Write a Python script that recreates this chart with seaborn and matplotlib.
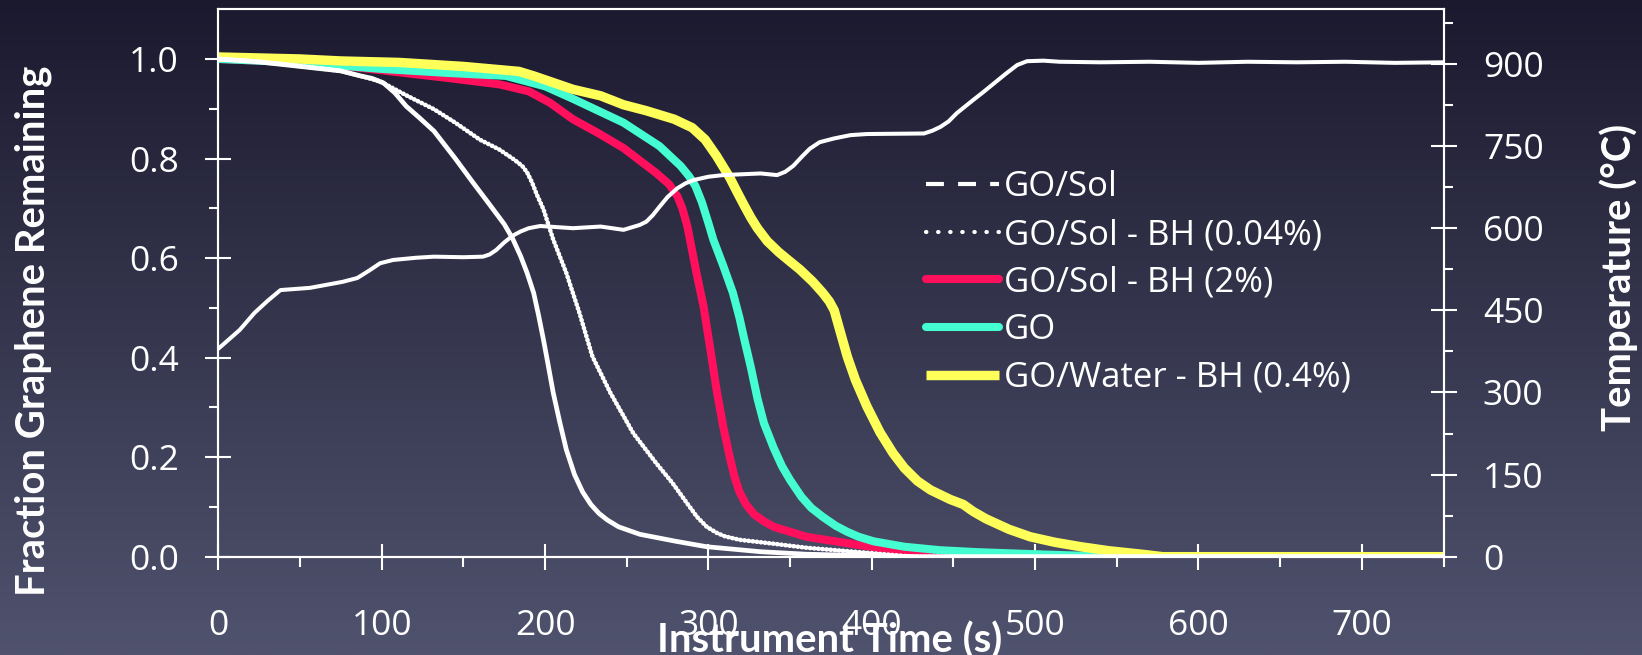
import numpy as np
import matplotlib
matplotlib.use("Agg")
import matplotlib.pyplot as plt
import seaborn as sns
from matplotlib.lines import Line2D
from matplotlib.ticker import FixedLocator, FormatStrFormatter

# ---- series: instrument time (s) vs fraction of graphene remaining ----
t_gosol = [0, 25, 50, 75, 87, 94, 101, 108, 115, 123, 132, 145, 156, 165, 175,
           180, 185, 189, 193, 196, 199, 202, 205, 209, 213, 218, 223, 228, 233,
           238, 245, 258, 280, 299, 332, 360, 400, 430, 750]
f_gosol = [1.000, 0.994, 0.985, 0.976, 0.966, 0.961, 0.952, 0.932, 0.905, 0.882,
           0.855, 0.800, 0.751, 0.712, 0.668, 0.640, 0.604, 0.570, 0.530, 0.485,
           0.436, 0.383, 0.329, 0.270, 0.215, 0.165, 0.130, 0.105, 0.087, 0.074,
           0.060, 0.045, 0.031, 0.020, 0.010, 0.005, 0.002, 0.000, 0.000]

t_bh004 = [0, 25, 50, 75, 87, 99, 115, 132, 145, 160, 172, 181, 186, 189, 192,
           195, 199, 205, 213, 221, 229, 240, 254, 268, 278, 287, 293, 299, 305,
           310, 319, 340, 360, 400, 425, 750]
f_bh004 = [1.000, 0.995, 0.986, 0.976, 0.966, 0.955, 0.927, 0.899, 0.872, 0.838,
           0.818, 0.798, 0.785, 0.772, 0.752, 0.727, 0.698, 0.637, 0.570, 0.490,
           0.402, 0.329, 0.248, 0.188, 0.148, 0.107, 0.080, 0.060, 0.048, 0.041,
           0.034, 0.026, 0.018, 0.007, 0.000, 0.000]

t_bh2 = [0, 30, 60, 85, 111, 140, 172, 190, 203, 217, 232, 248, 268, 276, 281,
         284, 287, 290, 293, 297, 301, 305, 309, 313, 316, 319, 323, 328, 334,
         340, 360, 391, 421, 445, 750]
f_bh2 = [1.000, 0.996, 0.990, 0.983, 0.973, 0.962, 0.949, 0.935, 0.912, 0.879,
         0.852, 0.821, 0.771, 0.748, 0.724, 0.700, 0.665, 0.615, 0.565, 0.503,
         0.420, 0.335, 0.262, 0.201, 0.160, 0.130, 0.105, 0.085, 0.071, 0.060,
         0.040, 0.024, 0.010, 0.000, 0.000]

t_go = [0, 50, 100, 140, 176, 200, 217, 248, 270, 283, 288, 292, 296, 300, 303,
        309, 315, 319, 322, 326, 330, 334, 340, 345, 350, 357, 363, 370, 378,
        385, 392, 401, 420, 442, 466, 500, 548, 750]
f_go = [1.000, 0.993, 0.980, 0.972, 0.966, 0.945, 0.920, 0.872, 0.825, 0.785,
        0.765, 0.745, 0.712, 0.670, 0.637, 0.585, 0.530, 0.480, 0.436, 0.380,
        0.318, 0.268, 0.218, 0.182, 0.154, 0.120, 0.098, 0.080, 0.062, 0.050,
        0.040, 0.031, 0.020, 0.013, 0.009, 0.005, 0.000, 0.000]

t_water = [0, 50, 75, 111, 150, 184, 193, 217, 234, 248, 262, 279, 290, 298, 305,
           313, 318, 322, 326, 330, 336, 343, 350, 356, 364, 370, 374, 377, 380,
           385, 390, 397, 405, 413, 420, 428, 436, 448, 456, 462, 470, 484, 497,
           512, 528, 545, 568, 578, 750]
f_water = [1.004, 1.000, 0.996, 0.993, 0.985, 0.975, 0.966, 0.939, 0.926, 0.908,
           0.896, 0.879, 0.862, 0.838, 0.805, 0.762, 0.730, 0.705, 0.681, 0.660,
           0.634, 0.612, 0.593, 0.577, 0.552, 0.530, 0.513, 0.495, 0.460, 0.402,
           0.355, 0.302, 0.250, 0.208, 0.178, 0.152, 0.134, 0.115, 0.105, 0.091,
           0.076, 0.055, 0.040, 0.029, 0.020, 0.012, 0.004, 0.000, 0.000]

# ---- furnace temperature (°C), right axis ----
t_temp = [0, 13, 22, 30, 38, 56, 76, 85, 92, 99, 107, 121, 132, 150, 162, 166,
          170, 175, 180, 185, 190, 197, 217, 234, 248, 258, 262, 266, 270, 275,
          281, 286, 291, 300, 309, 332, 342, 347, 352, 357, 362, 368, 377, 387,
          397, 432, 437, 442, 447, 452, 457, 462, 468, 475, 482, 489, 495, 505,
          515, 540, 570, 600, 630, 660, 690, 720, 750]
temp_c = [380, 414, 445, 467, 487, 491, 502, 509, 522, 536, 542, 546, 548, 547,
          548, 552, 560, 574, 586, 594, 600, 604, 600, 603, 597, 606, 612, 624,
          639, 657, 673, 682, 688, 694, 697, 700, 697, 703, 714, 730, 745, 757,
          764, 770, 772, 773, 778, 785, 795, 810, 822, 834, 848, 865, 882, 898,
          905, 906, 904, 903, 904, 902, 904, 903, 904, 902, 903]

x_ticks = [0, 100, 200, 300, 400, 500, 600, 700]
y_ticks = [0.0, 0.2, 0.4, 0.6, 0.8, 1.0]
temp_ticks = [0, 150, 300, 450, 600, 750, 900]

labels = ["GO/Sol", "GO/Sol - BH (0.04%)", "GO/Sol - BH (2%)", "GO",
          "GO/Water - BH (0.4%)"]

RED = "#ff0f5c"
CYAN = "#44fdd0"
YELLOW = "#ffff5a"

sns.set_theme(style="ticks")
plt.rcParams["font.family"] = ["Open Sans", "DejaVu Sans"]
plt.rcParams["axes.unicode_minus"] = False

W, H = 1642, 655
fig = plt.figure(figsize=(W / 100, H / 100), dpi=100)

# vertical background gradient
bg = fig.add_axes([0, 0, 1, 1], zorder=-10)
g = np.linspace(0, 1, 256)[:, None, None]
c_top = np.array([27, 25, 46]) / 255
c_bot = np.array([80, 83, 110]) / 255
bg.imshow(c_top + (c_bot - c_top) * g, aspect="auto", extent=[0, 1, 0, 1],
          origin="upper", interpolation="bilinear")
bg.set_axis_off()

left, right = 218.4 / W, 1443.5 / W
bottom, top = (H - 556.7) / H, (H - 9.2) / H
ax = fig.add_axes([left, bottom, right - left, top - bottom])
ax.set_facecolor("none")

line_kw = dict(ax=ax, estimator=None, sort=False, zorder=3)
sns.lineplot(x=t_bh2, y=f_bh2, color=RED, lw=5.8, solid_capstyle="round",
             solid_joinstyle="round", **line_kw)
sns.lineplot(x=t_go, y=f_go, color=CYAN, lw=5.8, solid_capstyle="round",
             solid_joinstyle="round", **line_kw)
sns.lineplot(x=t_water, y=f_water, color=YELLOW, lw=6.8, solid_capstyle="round",
             solid_joinstyle="round", **line_kw)
sns.lineplot(x=t_gosol, y=f_gosol, color="white", lw=3.4,
             solid_joinstyle="round", **line_kw)
sns.lineplot(x=t_bh004, y=f_bh004, color="white", lw=3.3,
             linestyle=(0, (0.1, 0.8)), dash_capstyle="round", **line_kw)

ax.set_xlim(0, 750)
ax.set_ylim(0, 1.1)

ax2 = ax.twinx()
sns.lineplot(x=t_temp, y=temp_c, ax=ax2, color="white", lw=2.9, estimator=None,
             sort=False, solid_joinstyle="round")
ax2.set_ylim(0, 1000)

for a in (ax, ax2):
    for s in a.spines.values():
        s.set_color("white")
        s.set_linewidth(1.5)
        s.set_visible(True)

ax.set_xticks(x_ticks)
ax.xaxis.set_minor_locator(FixedLocator([50, 150, 250, 350, 450, 550, 650, 750]))
ax.set_yticks(y_ticks)
ax.yaxis.set_minor_locator(FixedLocator([0.1, 0.3, 0.5, 0.7, 0.9]))
ax.yaxis.set_major_formatter(FormatStrFormatter("%.1f"))
ax2.set_yticks(temp_ticks)
ax2.yaxis.set_minor_locator(FixedLocator([75, 225, 375, 525, 675, 825, 975]))

tick_kw = dict(colors="white", width=1.5, labelsize=25.5, labelcolor="white")
ax.tick_params(axis="x", which="major", direction="inout", length=18.7,
               pad=28.5, **tick_kw)
ax.tick_params(axis="x", which="minor", direction="out", length=7, width=1.5,
               colors="white")
ax.tick_params(axis="y", which="major", direction="inout", length=18.7,
               pad=19, **tick_kw)
ax.tick_params(axis="y", which="minor", direction="out", length=6.5, width=1.5,
               colors="white")
ax2.tick_params(axis="y", which="major", direction="inout", length=18.7,
                pad=19, **tick_kw)
ax2.tick_params(axis="y", which="minor", direction="out", length=6.5, width=1.5,
                colors="white")

lab_font = dict(family=["Lato", "DejaVu Sans"], fontweight="bold",
                color="white", fontsize=28.8)
ax.set_xlabel("Instrument Time (s)", **lab_font)
ax.xaxis.label.set_va("baseline")
ax.xaxis.set_label_coords(0.4986, -0.176)

ax.set_ylabel("Fraction Graphene Remaining", **lab_font)
ax.yaxis.label.set_va("baseline")
ax.yaxis.set_label_coords(-0.1422, 0.412)

ax2.set_ylabel("Temperature (°C)", rotation=90, **lab_font)
ax2.yaxis.label.set_va("baseline")
ax2.yaxis.set_label_coords(1.1527, 0.51)

handles = [
    Line2D([], [], color="white", lw=3, dashes=(4.3, 3.4)),
    Line2D([], [], color="white", lw=3, dashes=(0.1, 2.8),
           dash_capstyle="round"),
    Line2D([], [], color=RED, lw=5.8, solid_capstyle="round"),
    Line2D([], [], color=CYAN, lw=5.8, solid_capstyle="round"),
    Line2D([], [], color=YELLOW, lw=6.8, solid_capstyle="butt"),
]
leg = ax.legend(handles, labels, loc="upper left",
                bbox_to_anchor=((925.7 - 218.4) / 1225.1, (556.7 - 170.5) / 547.5),
                frameon=False, fontsize=25, handlelength=2.1,
                handletextpad=0.15, labelspacing=0.39, borderpad=0,
                borderaxespad=0)
for txt in leg.get_texts():
    txt.set_color("white")

fig.savefig("out.png", dpi=100)
